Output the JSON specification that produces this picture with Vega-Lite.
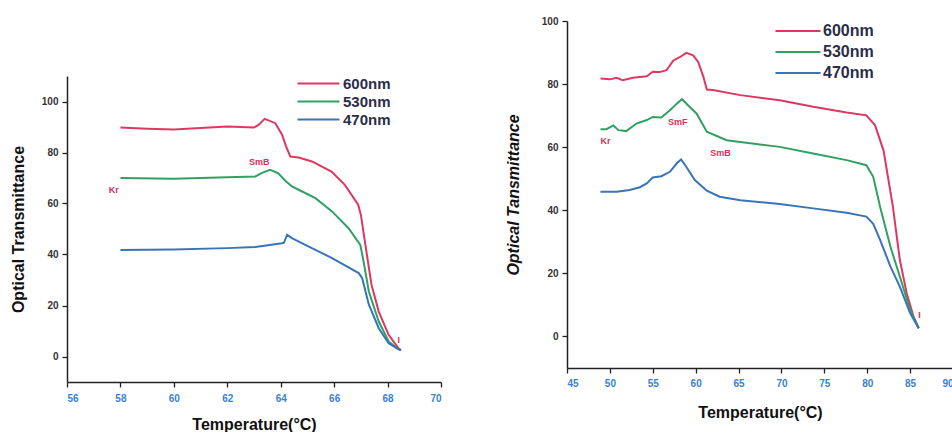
{
  "$schema": "https://vega.github.io/schema/vega-lite/v6.json",
  "background": "white",
  "padding": {"left": 10, "top": 16, "right": 0, "bottom": 0},
  "spacing": 63,
  "config": {
    "view": {"stroke": null},
    "font": "Liberation Sans",
    "axis": {
      "domainColor": "#222",
      "domainWidth": 1.5,
      "tickColor": "#222",
      "tickWidth": 1.3,
      "grid": false,
      "labelOverlap": false,
      "labelFont": "Liberation Sans",
      "labelFontWeight": "bold",
      "labelFontSize": 10,
      "titleFont": "Liberation Sans",
      "titleFontWeight": "bold",
      "titleFontSize": 16,
      "titleColor": "#111"
    },
    "legend": {
      "labelFont": "Liberation Sans",
      "labelFontWeight": "bold",
      "labelColor": "#2a2d4a",
      "symbolType": "M-4,0H4",
      "symbolStrokeWidth": 2,
      "title": null
    }
  },
  "resolve": {
    "scale": {"color": "independent", "x": "independent", "y": "independent"},
    "legend": {"color": "independent"}
  },
  "datasets": {
    "left": [
      {"T": 58, "v": 89.8, "series": "600nm"}, {"T": 59, "v": 89.3, "series": "600nm"}, {"T": 60, "v": 89.0, "series": "600nm"},
      {"T": 61, "v": 89.6, "series": "600nm"}, {"T": 62, "v": 90.2, "series": "600nm"}, {"T": 63, "v": 89.8, "series": "600nm"},
      {"T": 63.17, "v": 90.8, "series": "600nm"}, {"T": 63.4, "v": 93.2, "series": "600nm"}, {"T": 63.8, "v": 91.5, "series": "600nm"},
      {"T": 64.05, "v": 87, "series": "600nm"}, {"T": 64.2, "v": 82.4, "series": "600nm"}, {"T": 64.36, "v": 78.4, "series": "600nm"},
      {"T": 64.67, "v": 78, "series": "600nm"}, {"T": 65.17, "v": 76.5, "series": "600nm"}, {"T": 65.9, "v": 72.5, "series": "600nm"},
      {"T": 66.4, "v": 67.3, "series": "600nm"}, {"T": 66.9, "v": 59.5, "series": "600nm"}, {"T": 67.0, "v": 55.6, "series": "600nm"},
      {"T": 67.17, "v": 43.8, "series": "600nm"}, {"T": 67.4, "v": 28, "series": "600nm"}, {"T": 67.67, "v": 17.6, "series": "600nm"},
      {"T": 68.04, "v": 8.5, "series": "600nm"}, {"T": 68.4, "v": 3.3, "series": "600nm"}, {"T": 68.5, "v": 2.5, "series": "600nm"},
      {"T": 58, "v": 70, "series": "530nm"}, {"T": 60, "v": 69.7, "series": "530nm"}, {"T": 62, "v": 70.3, "series": "530nm"},
      {"T": 63.05, "v": 70.6, "series": "530nm"}, {"T": 63.3, "v": 72, "series": "530nm"}, {"T": 63.6, "v": 73.2, "series": "530nm"},
      {"T": 63.9, "v": 71.9, "series": "530nm"}, {"T": 64.17, "v": 68.9, "series": "530nm"}, {"T": 64.42, "v": 66.7, "series": "530nm"},
      {"T": 64.67, "v": 65.4, "series": "530nm"}, {"T": 65.3, "v": 62.1, "series": "530nm"}, {"T": 65.92, "v": 56.9, "series": "530nm"},
      {"T": 66.54, "v": 50.3, "series": "530nm"}, {"T": 66.98, "v": 43.8, "series": "530nm"}, {"T": 67.1, "v": 37.3, "series": "530nm"},
      {"T": 67.3, "v": 25.5, "series": "530nm"}, {"T": 67.67, "v": 13.7, "series": "530nm"}, {"T": 68.04, "v": 5.9, "series": "530nm"},
      {"T": 68.4, "v": 2.9, "series": "530nm"}, {"T": 68.5, "v": 2.5, "series": "530nm"},
      {"T": 58, "v": 41.8, "series": "470nm"}, {"T": 60, "v": 42, "series": "470nm"}, {"T": 62, "v": 42.5, "series": "470nm"},
      {"T": 63.05, "v": 42.9, "series": "470nm"}, {"T": 64.05, "v": 44.4, "series": "470nm"}, {"T": 64.12, "v": 44.6, "series": "470nm"},
      {"T": 64.24, "v": 47.7, "series": "470nm"}, {"T": 64.42, "v": 46.4, "series": "470nm"}, {"T": 64.92, "v": 43.8, "series": "470nm"},
      {"T": 65.92, "v": 38.6, "series": "470nm"}, {"T": 66.92, "v": 32.7, "series": "470nm"}, {"T": 67.05, "v": 30.7, "series": "470nm"},
      {"T": 67.3, "v": 20.3, "series": "470nm"}, {"T": 67.67, "v": 11.1, "series": "470nm"}, {"T": 68.04, "v": 5.2, "series": "470nm"},
      {"T": 68.4, "v": 2.9, "series": "470nm"}, {"T": 68.5, "v": 2.5, "series": "470nm"}
    ],
    "right": [
      {"T": 48.9, "v": 81.75, "series": "600nm"}, {"T": 50, "v": 81.5, "series": "600nm"}, {"T": 50.8, "v": 82, "series": "600nm"},
      {"T": 51.5, "v": 81.2, "series": "600nm"}, {"T": 52.7, "v": 82, "series": "600nm"}, {"T": 54.3, "v": 82.5, "series": "600nm"},
      {"T": 55, "v": 83.9, "series": "600nm"}, {"T": 55.8, "v": 83.8, "series": "600nm"}, {"T": 56.6, "v": 84.4, "series": "600nm"},
      {"T": 57.4, "v": 87.5, "series": "600nm"}, {"T": 58.2, "v": 88.6, "series": "600nm"}, {"T": 58.9, "v": 89.9, "series": "600nm"},
      {"T": 59.7, "v": 89.1, "series": "600nm"}, {"T": 60.3, "v": 87, "series": "600nm"}, {"T": 60.9, "v": 82.3, "series": "600nm"},
      {"T": 61.3, "v": 78.3, "series": "600nm"}, {"T": 62, "v": 78.1, "series": "600nm"}, {"T": 65.2, "v": 76.5, "series": "600nm"},
      {"T": 69.8, "v": 74.9, "series": "600nm"}, {"T": 73.7, "v": 72.8, "series": "600nm"}, {"T": 77.6, "v": 71, "series": "600nm"},
      {"T": 79.9, "v": 70.1, "series": "600nm"}, {"T": 80.9, "v": 67, "series": "600nm"}, {"T": 81.9, "v": 59, "series": "600nm"},
      {"T": 83, "v": 41, "series": "600nm"}, {"T": 83.8, "v": 24.3, "series": "600nm"}, {"T": 84.6, "v": 13.7, "series": "600nm"},
      {"T": 85.4, "v": 6.3, "series": "600nm"}, {"T": 86, "v": 2.6, "series": "600nm"},
      {"T": 48.9, "v": 65.7, "series": "530nm"}, {"T": 49.6, "v": 65.7, "series": "530nm"}, {"T": 50.4, "v": 66.9, "series": "530nm"},
      {"T": 51, "v": 65.4, "series": "530nm"}, {"T": 51.9, "v": 65.1, "series": "530nm"}, {"T": 53.1, "v": 67.5, "series": "530nm"},
      {"T": 54.3, "v": 68.6, "series": "530nm"}, {"T": 55, "v": 69.6, "series": "530nm"}, {"T": 56, "v": 69.4, "series": "530nm"},
      {"T": 57, "v": 71.7, "series": "530nm"}, {"T": 57.8, "v": 73.8, "series": "530nm"}, {"T": 58.4, "v": 75.2, "series": "530nm"},
      {"T": 59.1, "v": 73.3, "series": "530nm"}, {"T": 60.1, "v": 70.7, "series": "530nm"}, {"T": 61.3, "v": 64.9, "series": "530nm"},
      {"T": 63.6, "v": 62.2, "series": "530nm"}, {"T": 65.9, "v": 61.4, "series": "530nm"}, {"T": 69.8, "v": 60.1, "series": "530nm"},
      {"T": 73.7, "v": 58, "series": "530nm"}, {"T": 77.6, "v": 55.9, "series": "530nm"}, {"T": 79.9, "v": 54.3, "series": "530nm"},
      {"T": 80.7, "v": 50.6, "series": "530nm"}, {"T": 81.5, "v": 41.1, "series": "530nm"}, {"T": 82.7, "v": 28.5, "series": "530nm"},
      {"T": 83.8, "v": 19, "series": "530nm"}, {"T": 85, "v": 8.4, "series": "530nm"}, {"T": 86, "v": 2.6, "series": "530nm"},
      {"T": 48.9, "v": 45.9, "series": "470nm"}, {"T": 50.8, "v": 45.9, "series": "470nm"}, {"T": 52.3, "v": 46.4, "series": "470nm"},
      {"T": 53.5, "v": 47.3, "series": "470nm"}, {"T": 54.3, "v": 48.5, "series": "470nm"}, {"T": 55, "v": 50.4, "series": "470nm"},
      {"T": 56, "v": 50.8, "series": "470nm"}, {"T": 57, "v": 52.2, "series": "470nm"}, {"T": 57.8, "v": 54.9, "series": "470nm"},
      {"T": 58.3, "v": 56.1, "series": "470nm"}, {"T": 58.9, "v": 53.8, "series": "470nm"}, {"T": 59.9, "v": 49.6, "series": "470nm"},
      {"T": 61.3, "v": 46.2, "series": "470nm"}, {"T": 62.8, "v": 44.3, "series": "470nm"}, {"T": 65.2, "v": 43.2, "series": "470nm"},
      {"T": 69.8, "v": 42, "series": "470nm"}, {"T": 73.7, "v": 40.6, "series": "470nm"}, {"T": 77.6, "v": 39.2, "series": "470nm"},
      {"T": 79.9, "v": 38, "series": "470nm"}, {"T": 80.7, "v": 35.7, "series": "470nm"}, {"T": 81.5, "v": 30.6, "series": "470nm"},
      {"T": 82.7, "v": 22.2, "series": "470nm"}, {"T": 83.8, "v": 15.8, "series": "470nm"}, {"T": 85, "v": 7.4, "series": "470nm"},
      {"T": 86, "v": 2.6, "series": "470nm"}
    ],
    "leftLabels": [
      {"T": 57.75, "v": 65.1, "label": "Kr"},
      {"T": 63.2, "v": 76.2, "label": "SmB"},
      {"T": 68.42, "v": 6.5, "label": "I"}
    ],
    "rightLabels": [
      {"T": 49.5, "v": 61.9, "label": "Kr"},
      {"T": 57.9, "v": 68.0, "label": "SmF"},
      {"T": 62.9, "v": 58.2, "label": "SmB"},
      {"T": 86.1, "v": 6.9, "label": "I"}
    ],
    "empty": []
  },
  "hconcat": [
    {
      "spacing": 20,
      "vconcat": [
        {
          "width": 374,
          "height": 35,
          "data": {"name": "empty"},
          "mark": {"type": "point", "opacity": 0},
          "encoding": {}
        },
        {
          "width": 374,
          "height": 306,
          "layer": [
            {
              "data": {"name": "left"},
              "mark": {"type": "line", "strokeWidth": 2},
              "encoding": {
                "x": {
                  "field": "T", "type": "quantitative",
                  "scale": {"domain": [56, 70], "nice": false, "zero": false},
                  "axis": {
                    "title": "Temperature(°C)",
                    "values": [56, 57, 58, 59, 60, 61, 62, 63, 64, 65, 66, 67, 68, 69, 70],
                    "labelExpr": "datum.value % 2 == 0 ? datum.label : ''",
                    "labelColor": "#3a7fd0",
                    "labelPadding": 6,
                    "tickSize": 5,
                    "titlePadding": 13
                  }
                },
                "y": {
                  "field": "v", "type": "quantitative",
                  "scale": {"domain": [-10, 110], "nice": false, "zero": false},
                  "axis": {
                    "title": "Optical Transmittance",
                    "values": [0, 10, 20, 30, 40, 50, 60, 70, 80, 90, 100, 110],
                    "labelExpr": "datum.value % 20 == 0 && datum.value < 105 ? datum.label : ''",
                    "labelColor": "#333",
                    "tickSize": 5,
                    "labelPadding": 4,
                    "titlePadding": 15
                  }
                },
                "color": {
                  "field": "series", "type": "nominal",
                  "scale": {"domain": ["600nm", "530nm", "470nm"], "range": ["#dc3860", "#31a062", "#3a74b8"]},
                  "legend": {
                    "orient": "none", "legendX": 244, "legendY": 55,
                    "symbolSize": 110, "labelFontSize": 15, "rowPadding": 2, "labelOffset": 17
                  }
                }
              }
            },
            {
              "data": {"name": "leftLabels"},
              "mark": {"type": "text", "color": "#d8305c", "fontSize": 9, "fontWeight": "bold"},
              "encoding": {
                "x": {"field": "T", "type": "quantitative"},
                "y": {"field": "v", "type": "quantitative"},
                "text": {"field": "label"}
              }
            }
          ]
        }
      ]
    },
    {
      "width": 386,
      "height": 347,
      "layer": [
        {
          "data": {"name": "right"},
          "mark": {"type": "line", "strokeWidth": 2},
          "encoding": {
            "x": {
              "field": "T", "type": "quantitative",
              "scale": {"domain": [45, 90], "nice": false, "zero": false},
              "axis": {
                "title": "Temperature(°C)",
                "values": [45, 47.5, 50, 52.5, 55, 57.5, 60, 62.5, 65, 67.5, 70, 72.5, 75, 77.5, 80, 82.5, 85, 87.5, 90],
                "labelExpr": "datum.value % 5 == 0 ? datum.label : ''",
                "labelColor": "#3a7fd0",
                "labelPadding": 5,
                "tickSize": 5,
                "titlePadding": 16
              }
            },
            "y": {
              "field": "v", "type": "quantitative",
              "scale": {"domain": [-10, 100], "nice": false, "zero": false},
              "axis": {
                "title": "Optical Tansmittance",
                "titleFontStyle": "italic",
                "values": [0, 10, 20, 30, 40, 50, 60, 70, 80, 90, 100],
                "labelExpr": "datum.value % 20 == 0 ? datum.label : ''",
                "labelColor": "#333",
                "tickSize": 5,
                "labelPadding": 4,
                "titlePadding": 20
              }
            },
            "color": {
              "field": "series", "type": "nominal",
              "scale": {"domain": ["600nm", "530nm", "470nm"], "range": ["#dc3860", "#31a062", "#3a74b8"]},
              "legend": {
                "orient": "none", "legendX": 223, "legendY": 2,
                "symbolSize": 127, "labelFontSize": 16, "rowPadding": 5, "labelOffset": 17
              }
            }
          }
        },
        {
          "data": {"name": "rightLabels"},
          "mark": {"type": "text", "color": "#d8305c", "fontSize": 9, "fontWeight": "bold"},
          "encoding": {
            "x": {"field": "T", "type": "quantitative"},
            "y": {"field": "v", "type": "quantitative"},
            "text": {"field": "label"}
          }
        }
      ]
    }
  ]
}
